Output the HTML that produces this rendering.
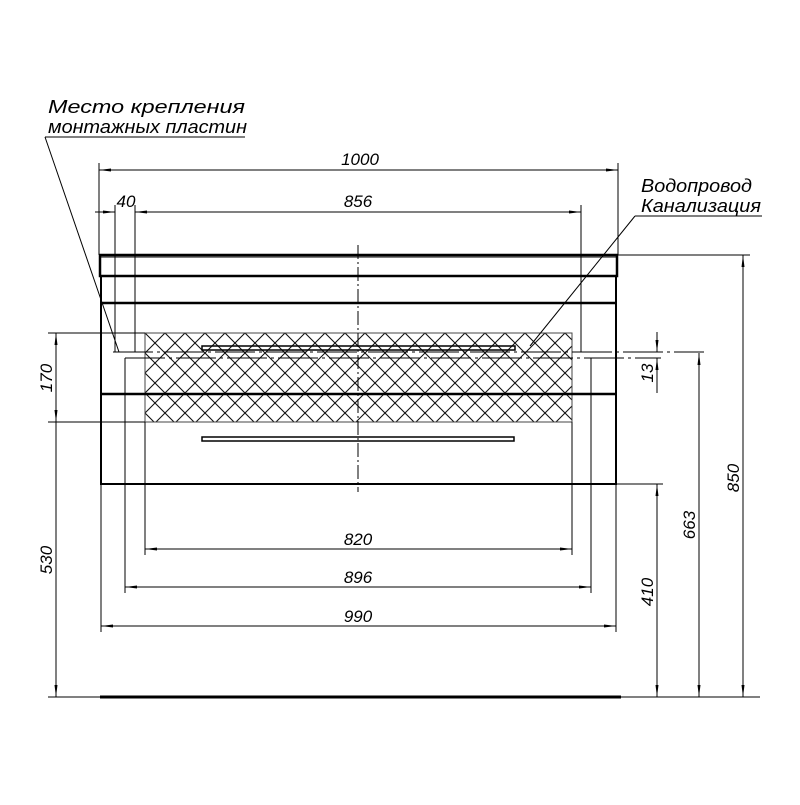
<!DOCTYPE html>
<html><head><meta charset="utf-8"><style>body{margin:0;background:#fff}</style></head><body>
<svg width="800" height="800" viewBox="0 0 800 800" xmlns="http://www.w3.org/2000/svg" font-family="Liberation Sans, sans-serif" font-style="italic">
<defs>
<pattern id="h" width="20" height="20" patternUnits="userSpaceOnUse" x="145" y="333">
<path d="M0 0L20 20M20 0L0 20" stroke="#111" stroke-width="1.1"/>
</pattern>
<marker id="a" markerWidth="12" markerHeight="6" refX="12" refY="3" orient="auto" markerUnits="userSpaceOnUse"><path d="M0 1.5L12 3L0 4.5z" fill="#000"/></marker>
<marker id="b" markerWidth="12" markerHeight="6" refX="0" refY="3" orient="auto" markerUnits="userSpaceOnUse"><path d="M12 1.5L0 3L12 4.5z" fill="#000"/></marker>
</defs>
<rect x="145" y="333" width="427" height="89" fill="url(#h)" stroke="#444" stroke-width="1"/>
<g stroke="#000" fill="none">
<rect x="100" y="255" width="517" height="21" stroke-width="2.5"/>
<line x1="100" y1="257" x2="617" y2="257" stroke-width="1"/>
<path d="M101 276V484H616V276" stroke-width="2"/>
<line x1="101" y1="303" x2="616" y2="303" stroke-width="2.5"/>
<line x1="101" y1="394" x2="616" y2="394" stroke-width="2.5"/>
<rect x="202" y="346" width="313" height="4" stroke-width="1.5"/>
<rect x="202" y="437" width="312" height="4" stroke-width="1.5"/>
<line x1="358" y1="245" x2="358" y2="492" stroke-width="1" stroke-dasharray="14,3,2,3"/>
<line x1="113" y1="352" x2="704" y2="352" stroke-width="1" stroke-dasharray="40,4,3,4"/>
<line x1="125" y1="358" x2="661" y2="358" stroke-width="1" stroke-dasharray="40,4,3,4"/>
<line x1="100" y1="697" x2="621" y2="697" stroke-width="3"/>
<g stroke-width="1">
<line x1="48" y1="697" x2="760" y2="697"/>
<line x1="99" y1="163" x2="99" y2="255"/>
<line x1="618" y1="163" x2="618" y2="255"/>
<line x1="115" y1="205" x2="115" y2="352"/>
<line x1="135" y1="205" x2="135" y2="352"/>
<line x1="581" y1="205" x2="581" y2="352"/>
<line x1="99" y1="170" x2="618" y2="170" marker-start="url(#b)" marker-end="url(#a)"/>
<line x1="95" y1="212" x2="115" y2="212" marker-end="url(#a)"/>
<line x1="135" y1="212" x2="581" y2="212" marker-start="url(#b)" marker-end="url(#a)"/>
<line x1="145" y1="422" x2="145" y2="555"/>
<line x1="572" y1="422" x2="572" y2="555"/>
<line x1="125" y1="358" x2="125" y2="593"/>
<line x1="591" y1="358" x2="591" y2="593"/>
<line x1="101" y1="484" x2="101" y2="632"/>
<line x1="616" y1="484" x2="616" y2="632"/>
<line x1="145" y1="549" x2="572" y2="549" marker-start="url(#b)" marker-end="url(#a)"/>
<line x1="125" y1="587" x2="591" y2="587" marker-start="url(#b)" marker-end="url(#a)"/>
<line x1="101" y1="626" x2="616" y2="626" marker-start="url(#b)" marker-end="url(#a)"/>
<line x1="48" y1="333" x2="145" y2="333"/>
<line x1="48" y1="422" x2="145" y2="422"/>
<line x1="56" y1="333" x2="56" y2="422" marker-start="url(#b)" marker-end="url(#a)"/>
<line x1="56" y1="422" x2="56" y2="697" marker-end="url(#a)"/>
<line x1="617" y1="255" x2="750" y2="255"/>
<line x1="743" y1="255" x2="743" y2="697" marker-start="url(#b)" marker-end="url(#a)"/>
<line x1="699" y1="353" x2="699" y2="697" marker-start="url(#b)" marker-end="url(#a)"/>
<line x1="616" y1="484" x2="663" y2="484"/>
<line x1="657" y1="484" x2="657" y2="697" marker-start="url(#b)" marker-end="url(#a)"/>
<line x1="657" y1="332" x2="657" y2="352" marker-end="url(#a)"/>
<line x1="657" y1="393" x2="657" y2="358" marker-end="url(#a)"/>
<line x1="45" y1="137" x2="245" y2="137"/>
<line x1="45" y1="137" x2="119" y2="352"/>
<line x1="635" y1="216" x2="762" y2="216"/>
<line x1="635" y1="216" x2="530" y2="346"/>
</g>
</g>
<g font-size="17" fill="#000" text-anchor="middle">
<text x="360" y="165">1000</text>
<text x="126" y="207">40</text>
<text x="358" y="207">856</text>
<text x="358" y="545">820</text>
<text x="358" y="583">896</text>
<text x="358" y="622">990</text>
<text transform="translate(52,378) rotate(-90)">170</text>
<text transform="translate(52,560) rotate(-90)">530</text>
<text transform="translate(653,373) rotate(-90)">13</text>
<text transform="translate(653,592) rotate(-90)">410</text>
<text transform="translate(695,525) rotate(-90)">663</text>
<text transform="translate(739,478) rotate(-90)">850</text>
</g>
<g font-size="18.5" fill="#000">
<text x="48" y="113" textLength="197" lengthAdjust="spacingAndGlyphs">Место крепления</text>
<text x="48" y="133" textLength="199" lengthAdjust="spacingAndGlyphs">монтажных пластин</text>
<text x="641" y="192" textLength="111" lengthAdjust="spacingAndGlyphs">Водопровод</text>
<text x="641" y="212" textLength="120" lengthAdjust="spacingAndGlyphs">Канализация</text>
</g>
</svg>
</body></html>
